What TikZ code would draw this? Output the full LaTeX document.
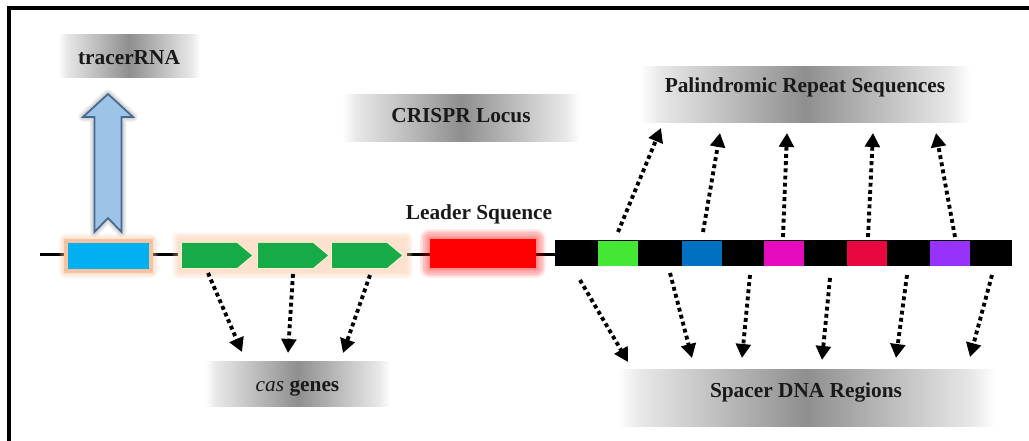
\documentclass[tikz,border=0pt]{standalone}
\usepackage{fontspec}
\setmainfont{Liberation Serif}
\usetikzlibrary{arrows.meta,calc}

\definecolor{tracrcyan}{RGB}{0,176,240}
\definecolor{peach}{RGB}{247,196,160}
\definecolor{palepeach}{RGB}{252,226,206}
\definecolor{paleyellow}{RGB}{250,240,200}
\definecolor{genegreen}{RGB}{22,170,72}
\definecolor{arrowblue}{RGB}{157,195,230}
\definecolor{arrowedge}{RGB}{70,105,145}
\definecolor{spgreen}{RGB}{68,232,52}
\definecolor{spblue}{RGB}{0,112,192}
\definecolor{spmagenta}{RGB}{230,12,190}
\definecolor{spcrimson}{RGB}{232,8,64}
\definecolor{sppurple}{RGB}{150,50,250}

% grey band that fades to white at both ends
\pgfdeclarehorizontalshading{labelgrey}{100bp}{%
  color(0bp)=(white); color(25bp)=(white); color(28bp)=(black!9);
  color(50bp)=(black!44); color(72bp)=(black!9); color(75bp)=(white);
  color(100bp)=(white)}

% soft halo: stacked translucent strokes round a path
\newcommand\halo[3]{%
  \foreach \k in {1,...,6}{%
    \draw[#1, line width=#2*0.75pt*\k/6, line join=round] #3;}}

\begin{document}
\begin{tikzpicture}[x=0.75pt,y=-0.75pt,
  labelbox/.style={shade, shading=labelgrey, inner xsep=0pt, inner ysep=0pt,
    font=\fontsize{16}{19}\selectfont\bfseries, text=black!90},
  plain/.style={font=\fontsize{16}{19}\selectfont\bfseries, text=black!90},
  dotarrow/.style={line width=2.9pt, dash pattern=on 2.9pt off 2.5pt,
    -{Triangle[length=10.5pt,width=11pt]}},
  square/.style={minimum width=40*0.75pt, minimum height=25*0.75pt,
    inner sep=0pt}]
\useasboundingbox (0,0) rectangle (1029,441);

% frame
\draw[line width=2.3pt] (9,441) -- (9,8) -- (1029,8);

% labels
\node[labelbox, minimum width=142*0.75pt, text height=22.5pt, text depth=9.75pt]
  (tracerlbl) at (129,56.5) {tracerRNA};
\node[labelbox, minimum width=238*0.75pt, text height=21pt, text depth=14.25pt]
  (locus) at (461,118.5) {CRISPR Locus};
\node[labelbox, minimum width=330*0.75pt, text height=19.5pt, text depth=22.5pt]
  (repeats) at (805,95) {Palindromic Repeat Sequences};
\node[labelbox, minimum width=378*0.75pt, text height=21pt, text depth=21.75pt]
  (spacers) at (806,398.5) {Spacer DNA Regions};
\node[labelbox, minimum width=185*0.75pt, text height=22.5pt, text depth=11.25pt]
  (caslbl) at (297.5,384.5) {\mdseries\itshape cas\upshape\bfseries{} genes};
\node[plain, anchor=base] (leader) at (479,220) {Leader Squence};

% DNA backbone
\draw[line width=2.2pt] (40,254.5) -- (556,254.5);

% tracrRNA gene with its halo
\halo{peach, opacity=0.12}{12}{(65,240) rectangle (152,272)}
\fill[peach] (64,239) rectangle (153,273);
\node[fill=tracrcyan, minimum width=81*0.75pt, minimum height=26*0.75pt,
  inner sep=0pt] (tracr) at (108.5,256) {};

% transcript arrow
\halo{black, opacity=0.04}{10}{(108,94) -- (133,117) -- (121.5,117) -- (121.5,232)
  -- (108,218) -- (94.5,232) -- (94.5,117) -- (83,117) -- cycle}
\draw[fill=arrowblue, draw=arrowedge, line width=1.3pt, line join=miter]
  (108,94) -- (133,117) -- (121.5,117) -- (121.5,232) -- (108,218)
  -- (94.5,232) -- (94.5,117) -- (83,117) -- cycle;

% cas genes
\halo{peach, opacity=0.10}{14}{(179,239) rectangle (406,272)}
\fill[palepeach] (178,238) rectangle (407,273);
\foreach \n/\x in {cas1/182, cas2/258, cas3/332}{
  \draw[paleyellow, line width=1.5pt, line join=round]
    (\x,243) -- ++(55,0) -- ++(15,12.5) -- ++(-15,12.5) -- ++(-55,0) -- cycle;
  \fill[genegreen] (\x,243) -- ++(55,0) -- ++(15,12.5) -- ++(-15,12.5)
    -- ++(-55,0) -- cycle;
  \coordinate (\n) at (\x+35,255.5);
}

% leader sequence
\halo{red, opacity=0.09}{20}{(430,239) rectangle (536,268)}
\node[fill=red, minimum width=106*0.75pt, minimum height=29*0.75pt,
  inner sep=0pt] (leaderbox) at (483,253.5) {};

% repeat-spacer array
\node[fill=black, minimum width=457*0.75pt, minimum height=26*0.75pt,
  inner sep=0pt] (array) at (783.5,253) {};
\node[square, fill=spgreen]   (sp1) at (618,253.5) {};
\node[square, fill=spblue]    (sp2) at (702,253.5) {};
\node[square, fill=spmagenta] (sp3) at (783.5,253.5) {};
\node[square, fill=spcrimson] (sp4) at (867,253.5) {};
\node[square, fill=sppurple]  (sp5) at (949.5,253.5) {};

% arrows to the repeat label
\foreach \i/\sx/\sy/\ex/\ey in {1/618/232/661/128, 2/703/232/720/133,
    3/783/237/787/133, 4/868/237/873/133, 5/955/237/936/133}{
  \coordinate (rs\i) at (\sx,\sy);
  \coordinate (re\i) at (\ex,\ey);
  \draw[dotarrow] (rs\i) -- (re\i);
}

% arrows to the spacer label
\foreach \i/\sx/\sy/\ex/\ey in {1/580/280/628/362, 2/670/273/692/358,
    3/750/275/742/358, 4/830/278/822/360, 5/907/275/896/358,
    6/992/275/970/357}{
  \coordinate (ss\i) at (\sx,\sy);
  \coordinate (se\i) at (\ex,\ey);
  \draw[dotarrow] (ss\i) -- (se\i);
}

% arrows to the cas label
\foreach \i/\sx/\sy/\ex/\ey in {1/208/273/242/352, 2/293/274/288/353,
    3/370/275/343/353}{
  \coordinate (cs\i) at (\sx,\sy);
  \coordinate (ce\i) at (\ex,\ey);
  \draw[dotarrow] (cs\i) -- (ce\i);
}
\end{tikzpicture}
\end{document}
